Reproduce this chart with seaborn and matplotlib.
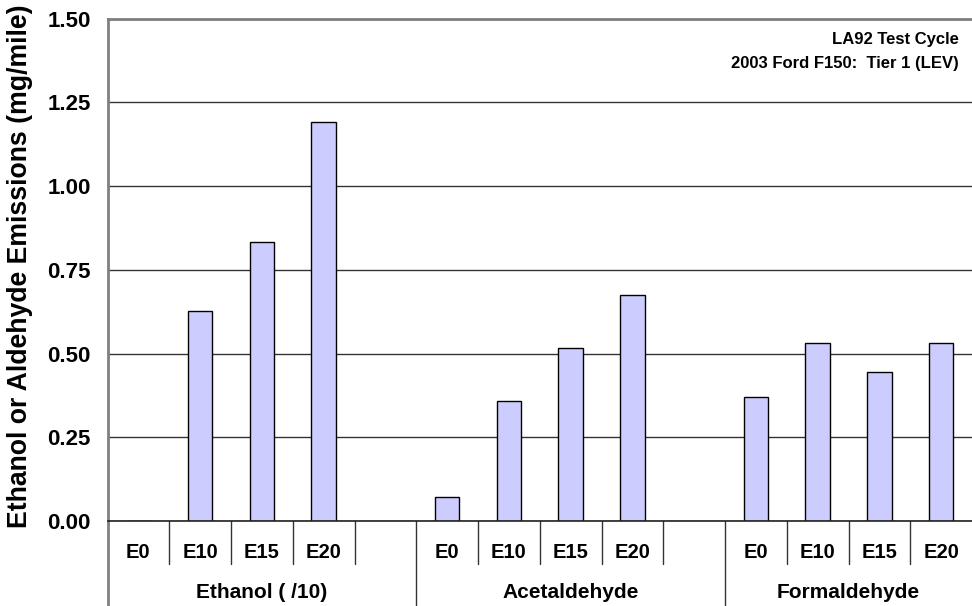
import pandas as pd
import seaborn as sns
import matplotlib.pyplot as plt
import matplotlib.transforms as mtransforms

# values (mg/mile)
groups = ["Ethanol ( /10)", "Acetaldehyde", "Formaldehyde"]
fuels = ["E0", "E10", "E15", "E20"]
ethanol = [0.0, 0.626, 0.834, 1.190]
acetaldehyde = [0.073, 0.359, 0.517, 0.674]
formaldehyde = [0.370, 0.531, 0.444, 0.531]
yticks = [0.00, 0.25, 0.50, 0.75, 1.00, 1.25, 1.50]
note = "LA92 Test Cycle\n2003 Ford F150:  Tier 1 (LEV)"

rows = []
for grp, vals in zip(groups, [ethanol, acetaldehyde, formaldehyde]):
    for fuel, v in zip(fuels, vals):
        rows.append({"slot": grp + " " + fuel, "fuel": fuel, "group": grp, "value": v})
df = pd.DataFrame(rows)

# slot order, with an empty slot after the first two groups
order = []
labels = []
for i, grp in enumerate(groups):
    order += [grp + " " + f for f in fuels]
    labels += fuels
    if i < len(groups) - 1:
        order.append("gap%d" % i)
        labels.append("")

sns.set_style("white")
plt.rcParams["font.family"] = ["Liberation Sans", "DejaVu Sans"]
plt.rcParams["font.weight"] = "bold"
plt.rcParams["text.color"] = "black"
plt.rcParams["axes.labelcolor"] = "black"
plt.rcParams["xtick.color"] = "black"
plt.rcParams["ytick.color"] = "black"

fig = plt.figure(figsize=(9.72, 6.06), dpi=100)
ax = fig.add_axes([0.1106, 0.1403, 0.8894, 0.8289])

sns.barplot(data=df, x="slot", y="value", order=order, color="#CCCCFF",
            saturation=1, edgecolor="black", linewidth=1, width=0.4, ax=ax)

ax.set_xlim(-0.5, len(order) - 0.5)
ax.set_ylim(0, 1.5)
ax.set_yticks(yticks)
ax.set_yticklabels(["%.2f" % t for t in yticks], fontsize=16, fontweight="bold")
ax.yaxis.grid(True, color="#333333", linewidth=1)
ax.set_axisbelow(True)

ax.set_xticks(range(len(order)))
ax.set_xticklabels(labels, fontsize=14.5, fontweight="bold")
ax.tick_params(axis="x", length=0, pad=16, labelcolor="black")
ax.tick_params(axis="y", length=5, width=1.2, color="#808080", direction="out", pad=7,
               labelcolor="black")

ax.set_xlabel("")
ax.set_ylabel("Ethanol or Aldehyde Emissions (mg/mile)", fontsize=19.2, fontweight="bold")
ax.yaxis.set_label_coords(-0.086, 0.508)

ax.spines["right"].set_visible(False)
ax.spines["top"].set_color("#808080")
ax.spines["top"].set_linewidth(2)
ax.spines["left"].set_color("#808080")
ax.spines["left"].set_linewidth(2)
ax.spines["left"].set_bounds(0, 1.5)
ax.spines["bottom"].set_color("#222222")
ax.spines["bottom"].set_linewidth(1.2)

# separators under the axis
trans = mtransforms.blended_transform_factory(ax.transData, ax.transAxes)
group_edges = [-0.5, 4.5, 9.5]
for k in range(len(order) - 1):
    x = k + 0.5
    if x in group_edges:
        continue
    ax.plot([x, x], [0, -0.0856], transform=trans, color="#333333", lw=1, clip_on=False)
for x in group_edges:
    c = "#808080" if x == -0.5 else "#333333"
    w = 2 if x == -0.5 else 1
    ax.plot([x, x], [0, -0.2], transform=trans, color=c, lw=w, clip_on=False)

# group labels
starts = [0, 5, 10]
ends = [4, 9, 13]
for grp, s, e in zip(groups, starts, ends):
    ax.text((s + e) / 2, -0.1433, grp, transform=trans, ha="center", va="center",
            fontsize=15, fontweight="bold")

ax.text(0.985, 0.935, note, transform=ax.transAxes, ha="right", va="center",
        fontsize=12, fontweight="bold", linespacing=1.8)

fig.savefig("out.png", dpi=100)
